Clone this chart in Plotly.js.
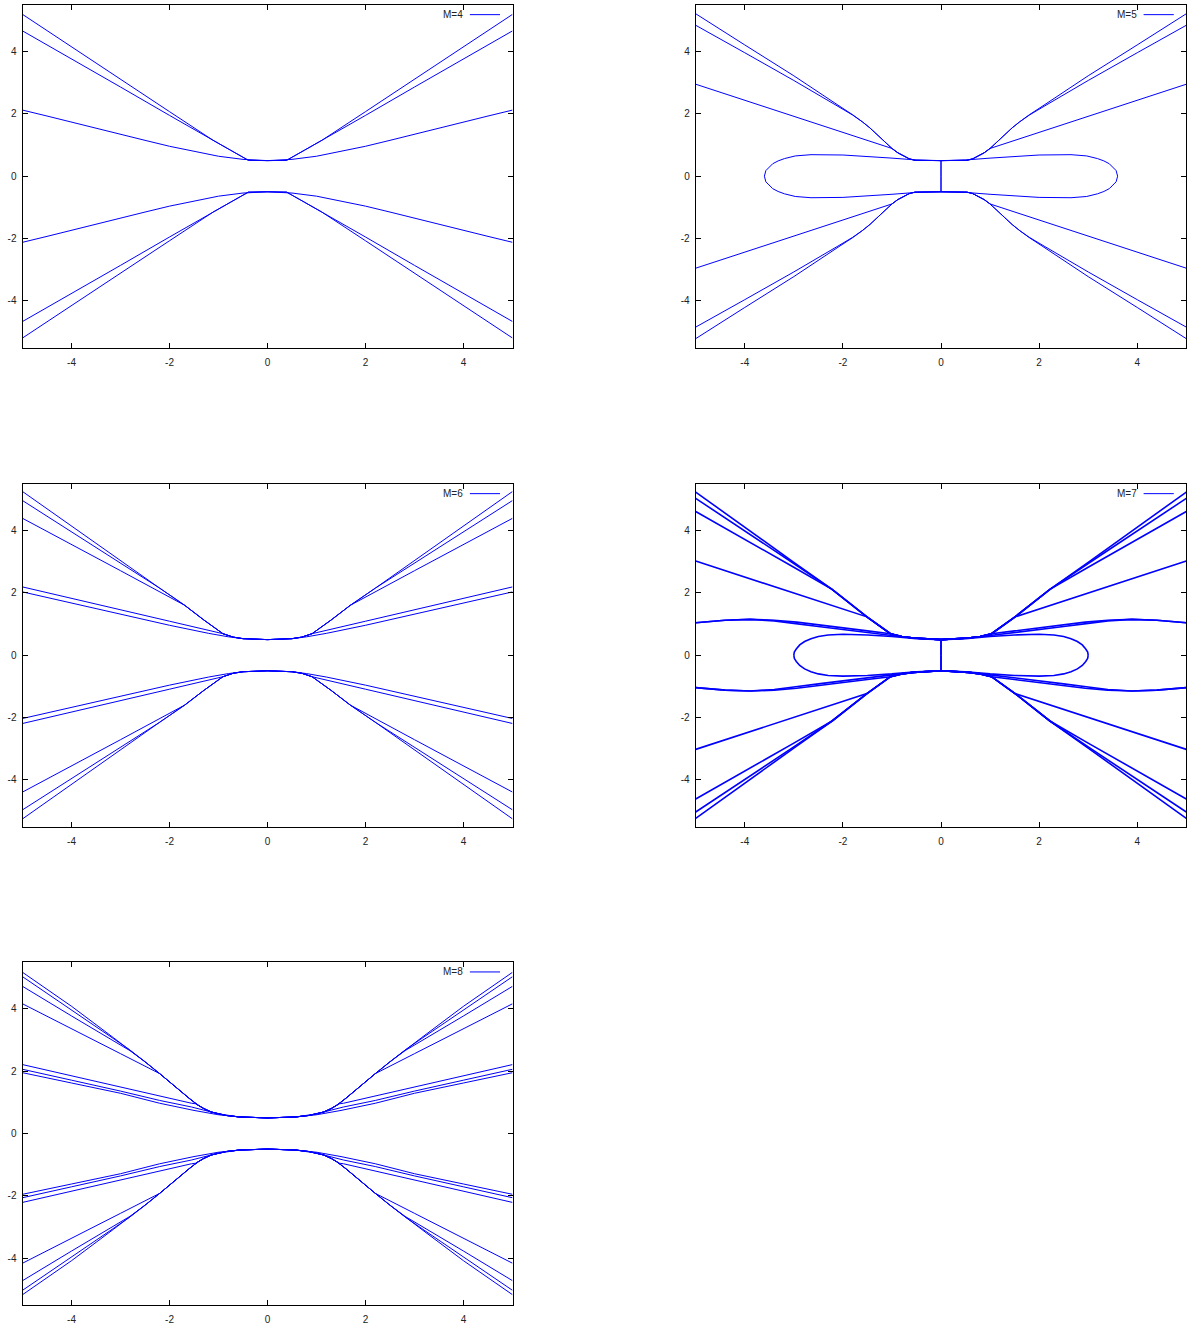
<!DOCTYPE html>
<html>
<head>
<meta charset="utf-8">
<script src="https://cdn.plot.ly/plotly-3.0.1.min.js"></script>
<style>
  html, body { margin: 0; padding: 0; background: #ffffff; }
  #chart { width: 1188px; height: 1324px; }
</style>
</head>
<body>
<div id="chart"></div>
<script>
// axis setup shared by every panel
const X_RANGE = [-5, 5];
const Y_RANGE = [-5.5, 5.5];
const X_TICKS = [-4, -2, 0, 2, 4];
const Y_TICKS = [-4, -2, 0, 2, 4];

const PANEL_LABELS = ["M=4", "M=5", "M=6", "M=7", "M=8"];

// curves, upper right quadrant only (x >= 0, y >= 0).
// each entry is [xs, ys]; the plots are symmetric about both axes.
const M4_CURVES = [
  [[0, 0.39, 0.75, 1.11, 2, 3, 4, 5], [0.5, 0.51, 0.83, 1.15, 2.07, 3.11, 4.15, 5.19]],
  [[0, 0.39, 0.75, 1.11, 2, 3, 4, 5], [0.5, 0.51, 0.83, 1.15, 1.95, 2.86, 3.76, 4.66]],
  [[0, 0.5, 1, 1.5, 2, 2.5, 3, 3.5, 4, 4.5, 5], [0.5, 0.54, 0.64, 0.79, 0.96, 1.15, 1.35, 1.55, 1.74, 1.93, 2.12]]
];

const M5_CURVES = [
  [[0, 0.53, 0.65, 0.76, 0.88, 1.0, 1.15, 1.3, 1.45, 1.6, 1.8, 2.1, 3, 4, 5],
   [0.5, 0.51, 0.56, 0.64, 0.75, 0.89, 1.12, 1.34, 1.55, 1.74, 1.97, 2.28, 3.22, 4.21, 5.21]],
  [[0, 0.53, 0.65, 0.76, 0.88, 1.0, 1.15, 1.3, 1.45, 1.6, 1.8, 2.1, 3, 4, 5],
   [0.5, 0.51, 0.56, 0.64, 0.75, 0.89, 1.12, 1.34, 1.55, 1.74, 1.96, 2.24, 3.07, 3.96, 4.84]],
  [[0, 0.53, 0.65, 0.76, 0.88, 1.0, 3, 5], [0.5, 0.51, 0.56, 0.64, 0.75, 0.89, 1.92, 2.95]],
  [[0, 0.5, 1.0, 1.5, 2.0, 2.65, 2.97, 3.19, 3.32, 3.43, 3.51, 3.57, 3.6],
   [0.5, 0.52, 0.58, 0.63, 0.68, 0.69, 0.65, 0.565, 0.49, 0.4, 0.29, 0.18, 0]],
  [[0, 0], [0, 0.5]]
];

const M6_CURVES = [
  [[0, 0.5, 0.7, 0.91, 1.3, 1.69, 2.2, 5], [0.5, 0.53, 0.58, 0.69, 1.13, 1.6, 2.15, 5.25]],
  [[0, 0.5, 0.7, 0.91, 1.3, 1.69, 2.2, 5], [0.5, 0.53, 0.58, 0.69, 1.13, 1.6, 2.15, 4.96]],
  [[0, 0.5, 0.7, 0.91, 1.3, 1.69, 3, 4, 5], [0.5, 0.53, 0.58, 0.69, 1.13, 1.6, 2.71, 3.55, 4.39]],
  [[0, 0.5, 0.7, 0.91, 2, 3, 4, 5], [0.5, 0.53, 0.58, 0.69, 1.09, 1.46, 1.82, 2.19]],
  [[0, 0.5, 0.8, 1.2, 2, 3, 4, 5], [0.5, 0.53, 0.59, 0.7, 0.96, 1.32, 1.68, 2.03]]
];

const M7_CURVES = [
  [[0, 0.56, 0.8, 1.03, 1.51, 2.22, 3, 4, 5], [0.5, 0.55, 0.6, 0.69, 1.23, 2.11, 2.98, 4.1, 5.23]],
  [[0, 0.56, 0.8, 1.03, 1.51, 2.22, 3, 4, 5], [0.5, 0.55, 0.6, 0.69, 1.23, 2.11, 2.94, 3.99, 5.03]],
  [[0, 0.56, 0.8, 1.03, 1.51, 2.22, 3, 4, 5], [0.5, 0.55, 0.6, 0.69, 1.23, 2.11, 2.82, 3.71, 4.61]],
  [[0, 0.56, 0.8, 1.03, 1.51, 3, 4, 5], [0.5, 0.55, 0.6, 0.69, 1.23, 1.99, 2.51, 3.02]],
  [[0, 0.56, 0.8, 1.03, 1.5, 1.92, 2.5, 2.94, 3.4, 3.89, 4.4, 5],
   [0.5, 0.55, 0.6, 0.69, 0.78, 0.86, 0.97, 1.06, 1.12, 1.15, 1.12, 1.04]],
  [[0, 0.56, 1.0, 1.5, 2.0, 2.5, 3.0, 3.4, 3.89, 4.4, 5],
   [0.5, 0.55, 0.63, 0.72, 0.81, 0.92, 1.02, 1.1, 1.15, 1.12, 1.04]],
  [[0, 0.5, 1, 1.5, 2, 2.3, 2.5, 2.65, 2.78, 2.88, 2.95, 2.99, 3.0],
   [0.5, 0.53, 0.6, 0.65, 0.67, 0.65, 0.6, 0.53, 0.44, 0.33, 0.2, 0.1, 0]],
  [[0, 0], [0, 0.5]]
];

const M8_CURVES = [
  [[0, 0.57, 0.85, 1.15, 1.3, 1.42, 1.6, 1.8, 2.0, 2.2, 2.5, 2.81, 3.15, 4, 5],
   [0.5, 0.53, 0.58, 0.69, 0.8, 0.91, 1.13, 1.4, 1.66, 1.92, 2.3, 2.68, 3.08, 4.08, 5.17]],
  [[0, 0.57, 0.85, 1.15, 1.3, 1.42, 1.6, 1.8, 2.0, 2.2, 2.5, 2.81, 3.15, 4, 5],
   [0.5, 0.53, 0.58, 0.69, 0.8, 0.91, 1.13, 1.4, 1.66, 1.92, 2.3, 2.68, 3.05, 3.96, 5.03]],
  [[0, 0.57, 0.85, 1.15, 1.3, 1.42, 1.6, 1.8, 2.0, 2.2, 2.5, 2.81, 4, 5],
   [0.5, 0.53, 0.58, 0.69, 0.8, 0.91, 1.13, 1.4, 1.66, 1.92, 2.3, 2.66, 3.77, 4.72]],
  [[0, 0.57, 0.85, 1.15, 1.3, 1.42, 1.6, 1.8, 2.0, 2.2, 3, 4, 5],
   [0.5, 0.53, 0.58, 0.69, 0.8, 0.91, 1.13, 1.4, 1.66, 1.92, 2.56, 3.36, 4.16]],
  [[0, 0.57, 0.85, 1.15, 1.3, 1.45, 1.55, 3, 4, 5], [0.5, 0.53, 0.58, 0.69, 0.8, 0.95, 0.97, 1.5, 1.86, 2.21]],
  [[0, 0.57, 1.0, 1.55, 2.2, 3, 4, 5], [0.5, 0.53, 0.63, 0.85, 1.06, 1.36, 1.71, 2.06]],
  [[0, 0.57, 1.0, 1.5, 2.2, 3, 4, 5], [0.5, 0.53, 0.6, 0.74, 0.97, 1.29, 1.62, 1.95]]
];

const PANEL_CURVES = [M4_CURVES, M5_CURVES, M6_CURVES, M7_CURVES, M8_CURVES];

// pixel frames of the five plot boxes, turned into paper fractions below
const W = 1188;
const H = 1324;
const COL_PX = [[22.5, 512.5], [695.7, 1186.3]];
const ROW_PX = [[4.7, 347.7], [483.7, 826.7], [962, 1305]];
const LINE_COLOR = "#0000ff";
const FONT = "Liberation Sans, Arial, sans-serif";

function panelDomain(idx) {
  const col = COL_PX[idx % 2];
  const row = ROW_PX[Math.floor(idx / 2)];
  return {
    x: [col[0] / W, col[1] / W],
    y: [1 - row[1] / H, 1 - row[0] / H]
  };
}

function axisSuffix(idx) {
  return idx === 0 ? "" : String(idx + 1);
}

function mirrorTraces(curves, idx, width) {
  const traces = [];
  const signs = [[1, 1], [-1, 1], [1, -1], [-1, -1]];
  const sfx = axisSuffix(idx);
  for (const [xs, ys] of curves) {
    for (const [sx, sy] of signs) {
      traces.push({
        type: "scatter",
        mode: "lines",
        x: xs.map((v) => v * sx),
        y: ys.map((v) => v * sy),
        xaxis: "x" + sfx,
        yaxis: "y" + sfx,
        showlegend: false,
        hoverinfo: "skip",
        line: { color: LINE_COLOR, width: width }
      });
    }
  }
  return traces;
}

function baseAxis(range, ticks) {
  return {
    range: range,
    tickmode: "array",
    tickvals: ticks,
    ticktext: ticks.map(String),
    ticks: "inside",
    ticklen: 5,
    tickwidth: 1,
    tickcolor: "#000000",
    showline: true,
    linecolor: "#000000",
    linewidth: 1,
    mirror: "ticks",
    showgrid: false,
    zeroline: false,
    fixedrange: true,
    tickfont: { family: FONT, size: 10, color: "#222222" }
  };
}

const traces = [];
const layout = {
  width: W,
  height: H,
  margin: { l: 0, r: 0, t: 0, b: 0 },
  paper_bgcolor: "#ffffff",
  plot_bgcolor: "#ffffff",
  showlegend: false,
  annotations: [],
  shapes: []
};

PANEL_CURVES.forEach((curves, idx) => {
  const width = idx === 3 ? 1.6 : 1;
  traces.push(...mirrorTraces(curves, idx, width));

  const sfx = axisSuffix(idx);
  const dom = panelDomain(idx);
  const xa = baseAxis(X_RANGE, X_TICKS);
  const ya = baseAxis(Y_RANGE, Y_TICKS);
  xa.domain = dom.x;
  ya.domain = dom.y;
  xa.anchor = "y" + sfx;
  ya.anchor = "x" + sfx;
  xa.ticklabelstandoff = 5;
  ya.ticklabelstandoff = 3;
  layout["xaxis" + sfx] = xa;
  layout["yaxis" + sfx] = ya;

  // gnuplot style key: label first, then a short sample line
  layout.annotations.push({
    xref: "x" + sfx + " domain",
    yref: "y" + sfx + " domain",
    x: 0.903,
    y: 0.971,
    xanchor: "right",
    yanchor: "middle",
    showarrow: false,
    text: PANEL_LABELS[idx],
    font: { family: FONT, size: 10, color: "#222222" }
  });
  layout.shapes.push({
    type: "line",
    xref: "x" + sfx + " domain",
    yref: "y" + sfx + " domain",
    x0: 0.913,
    x1: 0.9745,
    y0: 0.971,
    y1: 0.971,
    line: { color: LINE_COLOR, width: 1 }
  });
});

Plotly.newPlot("chart", traces, layout, { staticPlot: true, displayModeBar: false });
</script>
</body>
</html>
